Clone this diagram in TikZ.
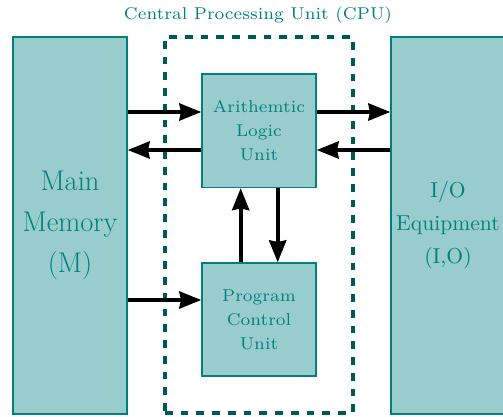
\documentclass[tikz,border=0pt]{standalone}
\usepackage{fontspec}
\usetikzlibrary{arrows.meta}
% Latin Modern at fixed optical sizes
\newfontfamily\lmseven{lmroman7-regular.otf}
\newfontfamily\lmten{lmroman10-regular.otf}
\newfontfamily\lmseventeen{lmroman17-regular.otf}
\begin{document}
\begin{tikzpicture}[x=0.33333pt,y=-0.33333pt,
  unitbox/.style={draw=teal,fill=teal!40,text=teal,minimum width=38pt,align=center,inner sep=0pt},
  arr/.style={line width=1.45pt,-{Stealth[length=7.3pt,width=5.6pt,inset=0.5pt]}},
  cpubox/.style={draw=teal!70!black,line width=1.45pt,dash pattern=on 2.55pt off 2.7pt,minimum width=62.67pt,minimum height=125.33pt,inner sep=0pt},
  smallfont/.style={font=\lmseven\fontsize{5.7}{8}\selectfont}]
  \useasboundingbox (0,0) rectangle (503,417);
  % CPU frame and its caption
  \node[cpubox] (cpu) at (259,225) {};
  \node[smallfont,text=teal] (title) at (258,15) {Central Processing Unit (CPU)};
  % units
  \node[unitbox,minimum height=125.67pt,font=\lmseventeen\fontsize{9.5}{13.6}\selectfont] (main) at (70,225.5) {Main\\Memory\\(M)};
  \node[unitbox,minimum height=125.67pt,font=\lmten\fontsize{7.2}{11}\selectfont] (io) at (448,225.5) {I/O\\Equipment\\(I,O)};
  \node[unitbox,minimum height=37.83pt,smallfont] (alu) at (259,130.75) {Arithemtic\\Logic\\Unit};
  \node[unitbox,minimum height=37.67pt,smallfont] (pcu) at (259,319.5) {Program\\Control\\Unit};
  % data paths
  \draw[arr] (main.east |- 0,112) -- (alu.west |- 0,112);
  \draw[arr] (alu.west |- 0,150) -- (main.east |- 0,150);
  \draw[arr] (alu.east |- 0,112) -- (io.west |- 0,112);
  \draw[arr] (io.west |- 0,150) -- (alu.east |- 0,150);
  \draw[arr] (pcu.north -| 240.7,0) -- (alu.south -| 240.7,0);
  \draw[arr] (alu.south -| 277.7,0) -- (pcu.north -| 277.7,0);
  \draw[arr] (main.east |- 0,300) -- (pcu.west |- 0,300);
\end{tikzpicture}
\end{document}
